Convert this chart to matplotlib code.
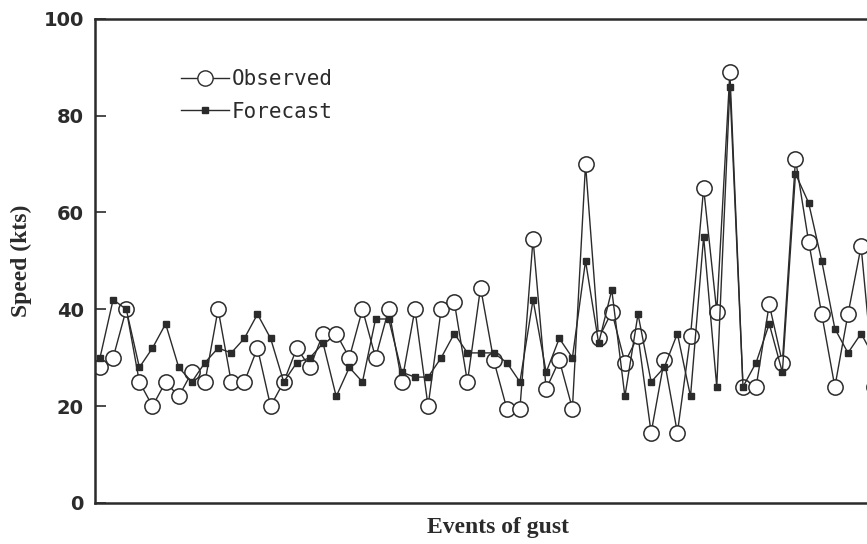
import matplotlib.pyplot as plt
from matplotlib.lines import Line2D

# gust events (kts)
events = list(range(1, 61))
observed = [28, 30, 40, 25, 20, 25, 22, 27, 25, 40,
            25, 25, 32, 20, 25, 32, 28, 35, 35, 30,
            40, 30, 40, 25, 40, 20, 40, 41.5, 25, 44.5,
            29.5, 19.5, 19.5, 54.5, 23.5, 29.5, 19.5, 70, 34, 39.5,
            29, 34.5, 14.5, 29.5, 14.5, 34.5, 65, 39.5, 89, 24,
            24, 41, 29, 71, 54, 39, 24, 39, 53, 24]
forecast = [30, 42, 40, 28, 32, 37, 28, 25, 29, 32,
            31, 34, 39, 34, 25, 29, 30, 33, 22, 28,
            25, 38, 38, 27, 26, 26, 30, 35, 31, 31,
            31, 29, 25, 42, 27, 34, 30, 50, 33, 44,
            22, 39, 25, 28, 35, 22, 55, 24, 86, 24,
            29, 37, 27, 68, 62, 50, 36, 31, 35, 30]
yticks = [0, 20, 40, 60, 80, 100]

ink = '#2b2b2b'

fig = plt.figure(figsize=(8.67, 5.44), dpi=100)
# the scan is cropped on the right, so the axes run past the figure edge
ax = fig.add_axes([0.1096, 0.0754, 0.929, 0.890])

ax.plot(events, observed, color=ink, linewidth=1.0, marker='o', markersize=11,
        markerfacecolor='white', markeredgecolor=ink, markeredgewidth=1.1, zorder=2)
ax.plot(events, forecast, color=ink, linewidth=1.0, marker='s', markersize=4,
        markerfacecolor=ink, markeredgecolor=ink, zorder=3)

ax.set_xlim(0.62, 62)
ax.set_ylim(0, 100)
ax.set_xticks([])
ax.set_yticks(yticks)
ax.tick_params(axis='y', direction='in', length=8, width=1.2, pad=8, colors=ink)
for lbl in ax.get_yticklabels():
    lbl.set_fontweight('bold')
    lbl.set_fontsize(14)

for side in ['left', 'top', 'bottom']:
    ax.spines[side].set_linewidth(1.8)
    ax.spines[side].set_color(ink)
ax.spines['right'].set_visible(False)

ax.set_ylabel('Speed (kts)', family='Liberation Serif', fontsize=17,
              fontweight='bold', color=ink, labelpad=8)
ax.set_xlabel('Events of gust', family='Liberation Serif', fontsize=17,
              fontweight='bold', color=ink, labelpad=10)

handles = [
    Line2D([], [], color=ink, linewidth=1.0, marker='o', markersize=11,
           markerfacecolor='white', markeredgecolor=ink),
    Line2D([], [], color=ink, linewidth=1.0, marker='s', markersize=4,
           markerfacecolor=ink, markeredgecolor=ink),
]
leg = ax.legend(handles, ['Observed', 'Forecast'], loc='upper left',
                bbox_to_anchor=(0.083, 0.935), frameon=False, handlelength=2.3,
                handletextpad=0.15, labelspacing=0.6,
                prop={'family': 'DejaVu Sans Mono', 'size': 15})
for t in leg.get_texts():
    t.set_color(ink)

fig.savefig('out.png', dpi=100)
